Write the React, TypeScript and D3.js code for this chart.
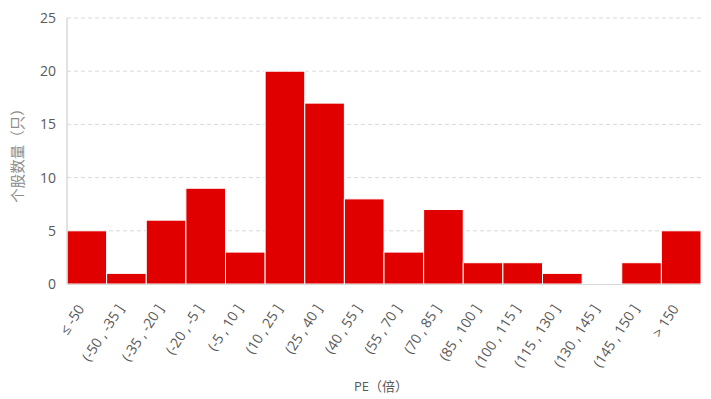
import React from "react";
import * as d3 from "d3";

const categories = ["≤ -50", "(-50 , -35 ]", "(-35 , -20 ]", "(-20 , -5 ]", "(-5 , 10 ]", "(10 , 25 ]", "(25 , 40 ]", "(40 , 55 ]", "(55 , 70 ]", "(70 , 85 ]", "(85 , 100 ]", "(100 , 115 ]", "(115 , 130 ]", "(130 , 145 ]", "(145 , 150 ]", "> 150"];
const counts = [5, 1, 6, 9, 3, 20, 17, 8, 3, 7, 2, 2, 1, 0, 2, 5];
const yTicks = [0, 5, 10, 15, 20, 25];

const W = 711, H = 399;
const left = 67, right = 701, top = 18, bottom = 284;

export default function App() {
  const x = d3.scaleBand<string>().domain(categories).range([left, right]).padding(0);
  const y = d3.scaleLinear().domain([0, 25]).range([bottom, top]);
  const font = "'Open Sans', 'Noto Sans CJK SC', sans-serif";
  const cjk = "'Noto Sans CJK SC', sans-serif";
  return (
    <svg width={W} height={H} style={{ position: "absolute", left: 0, top: 0, background: "#fff" }}>
      {yTicks.filter(t => t > 0).map(t => (
        <line key={t} x1={left} x2={right} y1={y(t)} y2={y(t)} stroke="#d9d9d9" strokeDasharray="4,3" strokeWidth={1} />
      ))}
      {categories.map((c, i) => (
        <rect key={c} x={x(c)!} y={y(counts[i])} width={x.bandwidth()} height={y(0) - y(counts[i])} fill="#E00000" stroke="#fff" strokeWidth={1} />
      ))}
      <line x1={left} x2={left} y1={top} y2={bottom} stroke="#d9d9d9" strokeWidth={1.5} />
      <line x1={left} x2={right} y1={bottom + 0.5} y2={bottom + 0.5} stroke="#d9d9d9" strokeWidth={1} />
      {yTicks.map(t => (
        <text key={t} x={56} y={y(t)} dy="0.35em" textAnchor="end" fontSize={14} fill="#595959" fontFamily={font}>{t}</text>
      ))}
      {categories.map(c => {
        const cx = x(c)! + x.bandwidth() / 2;
        return (
          <text key={c} transform={`translate(${cx - 6},${bottom + 22}) rotate(-57)`} textAnchor="end" dy="0.35em" fontSize={14} fill="#595959" fontFamily={font}>{c}</text>
        );
      })}
      <text transform={`translate(18,152) rotate(-90)`} textAnchor="middle" dy="0.35em" fontSize={14.5} fill="#8c8c8c" fontFamily={cjk}>个股数量（只）</text>
      <text x={381} y={391} textAnchor="middle" fontSize={13} fill="#595959" fontFamily={font}>PE（倍）</text>
    </svg>
  );
}
